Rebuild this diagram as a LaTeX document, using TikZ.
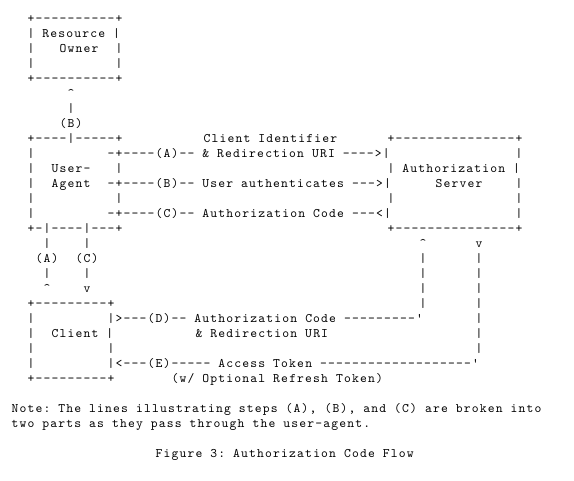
\documentclass[tikz,border=0pt]{standalone}
\usepackage{fontspec}
\setmonofont{lmmono10-regular.otf}[LetterSpace=9.04]
\usepackage{tikz}

\newcommand{\asciifont}{\ttfamily\fontsize{13}{15}\selectfont
	\fontdimen2\font=8pt\fontdimen3\font=0pt\fontdimen4\font=0pt\relax}
\newcommand{\caret}{\textasciicircum}

\tikzset{asc/.style={anchor=base west,inner sep=0pt,outer sep=0pt,xshift=0.6pt,font=\asciifont}}

\begin{document}
\begin{tikzpicture}[x=8pt,y=-15pt]
	
	\useasboundingbox (1.625,-1.5333) rectangle (73.375,30.5333);
	
	%resource owner
	\node[asc] (r0c5) at (5,0)	{+----------+};
	\node[asc] (r1c5) at (5,1)	{| Resource |};
	\node[asc] (r2c5) at (5,2)	{|};	\node[asc] (r2c9) at (9,2) {Owner};	\node[asc] (r2c16) at (16,2) {|};
	\node[asc] (r3c5) at (5,3)	{|};	\node[asc] (r3c16) at (16,3) {|};
	\node[asc] (r4c5) at (5,4)	{+----------+};
	
	%step (B) up to the owner
	\node[asc] (r5c10) at (10,5)	{\caret};
	\node[asc] (r6c10) at (10,6)	{|};
	\node[asc] (r7c9) at (9,7)		{(B)};
	
	%user-agent
	\node[asc] (r8c5) at (5,8)		{+----|-----+};
	\node[asc] (r9c5) at (5,9)		{|};
	\node[asc] (r10c5) at (5,10)	{|};	\node[asc] (r10c8) at (8,10) {User-};	\node[asc] (r10c16) at (16,10) {|};
	\node[asc] (r11c5) at (5,11)	{|};	\node[asc] (r11c8) at (8,11) {Agent};
	\node[asc] (r12c5) at (5,12)	{|};	\node[asc] (r12c16) at (16,12) {|};
	\node[asc] (r13c5) at (5,13)	{|};
	\node[asc] (r14c5) at (5,14)	{+-|----|---+};
	
	%steps (A), (B), (C) across
	\node[asc] (r8c27) at (27,8)	{Client Identifier};
	\node[asc] (r9c15) at (15,9)	{-+----(A)-- \& Redirection URI ---->|};
	\node[asc] (r11c15) at (15,11)	{-+----(B)-- User authenticates --->|};
	\node[asc] (r13c15) at (15,13)	{-+----(C)-- Authorization Code ---<|};
	
	%authorization server
	\node[asc] (r8c50) at (50,8)	{+---------------+};
	\node[asc] (r9c66) at (66,9)	{|};
	\node[asc] (r10c50) at (50,10)	{| Authorization |};
	\node[asc] (r11c56) at (56,11)	{Server};	\node[asc] (r11c66) at (66,11) {|};
	\node[asc] (r12c50) at (50,12)	{|};		\node[asc] (r12c66) at (66,12) {|};
	\node[asc] (r13c66) at (66,13)	{|};
	\node[asc] (r14c50) at (50,14)	{+---------------+};
	
	%steps (A) and (C) down to the client
	\node[asc] (r15c7) at (7,15)	{|};	\node[asc] (r15c12) at (12,15) {|};
	\node[asc] (r16c6) at (6,16)	{(A)};	\node[asc] (r16c11) at (11,16) {(C)};
	\node[asc] (r17c7) at (7,17)	{|};	\node[asc] (r17c12) at (12,17) {|};
	\node[asc] (r18c7) at (7,18)	{\caret};	\node[asc] (r18c12) at (12,18) {v};
	
	%client
	\node[asc] (r19c5) at (5,19)	{+---------+};
	\node[asc] (r20c5) at (5,20)	{|};
	\node[asc] (r21c5) at (5,21)	{|};	\node[asc] (r21c8) at (8,21) {Client |};
	\node[asc] (r22c5) at (5,22)	{|};	\node[asc] (r22c15) at (15,22) {|};
	\node[asc] (r23c5) at (5,23)	{|};
	\node[asc] (r24c5) at (5,24)	{+---------+};
	
	%steps (D) and (E)
	\node[asc] (r15c54) at (54,15)	{\caret};	\node[asc] (r15c61) at (61,15) {v};
	\node[asc] (r16c54) at (54,16)	{|};	\node[asc] (r16c61) at (61,16) {|};
	\node[asc] (r17c54) at (54,17)	{|};	\node[asc] (r17c61) at (61,17) {|};
	\node[asc] (r18c54) at (54,18)	{|};	\node[asc] (r18c61) at (61,18) {|};
	\node[asc] (r19c54) at (54,19)	{|};	\node[asc] (r19c61) at (61,19) {|};
	\node[asc] (r20c15) at (15,20)	{|>---(D)-- Authorization Code ---------'};
		\node[asc] (r20c61) at (61,20) {|};
	\node[asc] (r21c26) at (26,21)	{\& Redirection URI};
		\node[asc] (r21c61) at (61,21) {|};
	\node[asc] (r22c61) at (61,22)	{|};
	\node[asc] (r23c15) at (15,23)	{|<---(E)----- Access Token -------------------'};
	\node[asc] (r24c23) at (23,24)	{(w/ Optional Refresh Token)};
	
	%note and caption
	\node[asc] (r26c3) at (3,26)	{Note: The lines illustrating steps (A), (B), and (C) are broken into};
	\node[asc] (r27c3) at (3,27)	{two parts as they pass through the user-agent.};
	\node[asc] (r29c21) at (21,29)	{Figure 3: Authorization Code Flow};
	
\end{tikzpicture}
\end{document}
